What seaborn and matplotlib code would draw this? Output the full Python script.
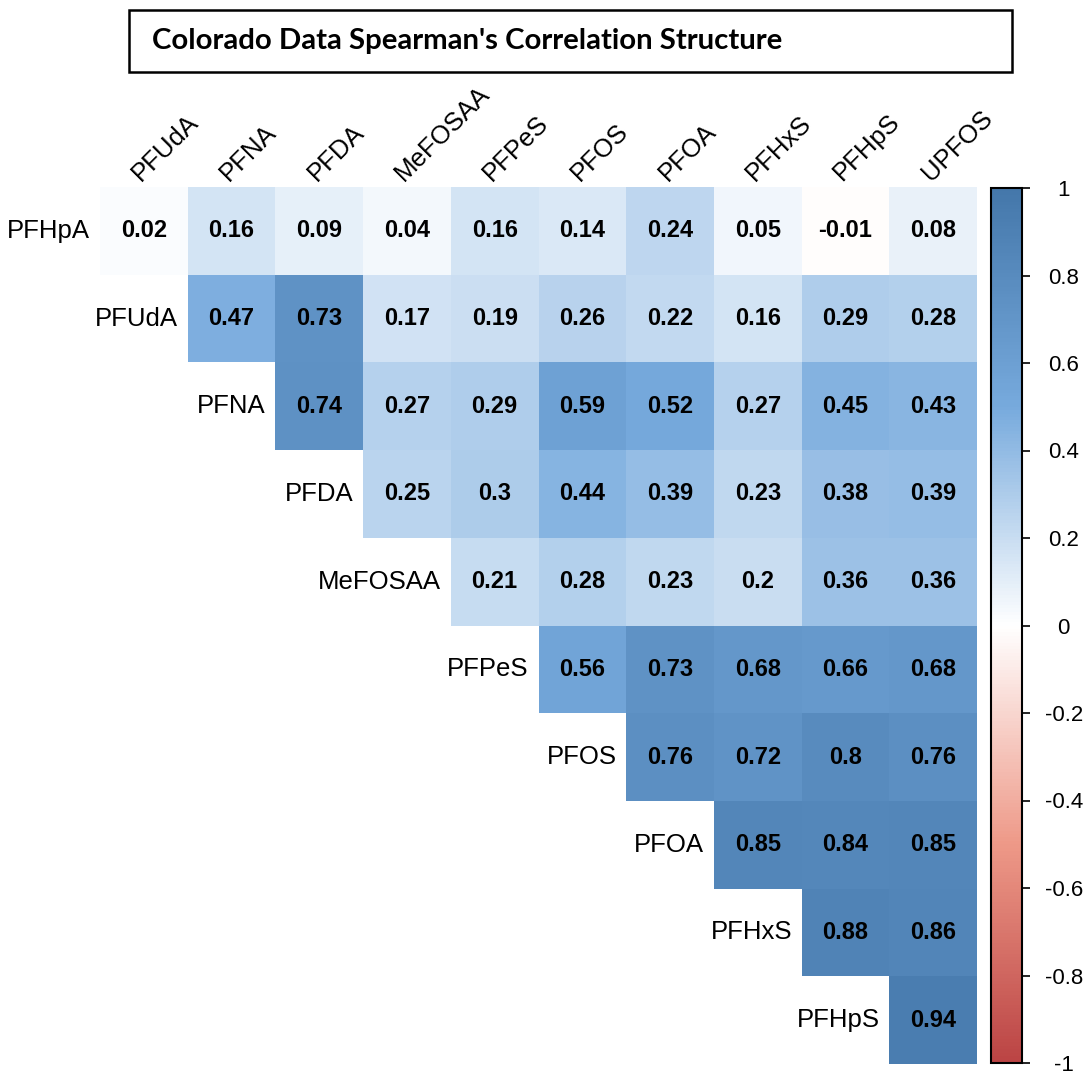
import matplotlib
matplotlib.use("Agg")
import matplotlib.pyplot as plt
import seaborn as sns
import numpy as np
import pandas as pd
from matplotlib.colors import LinearSegmentedColormap
from matplotlib.patches import Rectangle

row_labels = ['PFHpA', 'PFUdA', 'PFNA', 'PFDA', 'MeFOSAA', 'PFPeS', 'PFOS', 'PFOA', 'PFHxS', 'PFHpS']
col_labels = ['PFUdA', 'PFNA', 'PFDA', 'MeFOSAA', 'PFPeS', 'PFOS', 'PFOA', 'PFHxS', 'PFHpS', 'UPFOS']

# upper triangle rows (each row starts on the diagonal)
r_pfhpa = [0.02, 0.16, 0.09, 0.04, 0.16, 0.14, 0.24, 0.05, -0.01, 0.08]
r_pfuda = [0.47, 0.73, 0.17, 0.19, 0.26, 0.22, 0.16, 0.29, 0.28]
r_pfna = [0.74, 0.27, 0.29, 0.59, 0.52, 0.27, 0.45, 0.43]
r_pfda = [0.25, 0.3, 0.44, 0.39, 0.23, 0.38, 0.39]
r_mefosaa = [0.21, 0.28, 0.23, 0.2, 0.36, 0.36]
r_pfpes = [0.56, 0.73, 0.68, 0.66, 0.68]
r_pfos = [0.76, 0.72, 0.8, 0.76]
r_pfoa = [0.85, 0.84, 0.85]
r_pfhxs = [0.88, 0.86]
r_pfhps = [0.94]

cbar_ticks = [-1, -0.8, -0.6, -0.4, -0.2, 0, 0.2, 0.4, 0.6, 0.8, 1]

rows = [r_pfhpa, r_pfuda, r_pfna, r_pfda, r_mefosaa, r_pfpes, r_pfos, r_pfoa, r_pfhxs, r_pfhps]
n = len(row_labels)
mat = np.full((n, n), np.nan)
for i, vals in enumerate(rows):
    mat[i, i:] = vals
df = pd.DataFrame(mat, index=row_labels, columns=col_labels)
annot = df.apply(lambda c: c.map(lambda v: '' if np.isnan(v) else f"{v:g}"))

# corrplot style palette
cmap = LinearSegmentedColormap.from_list('corr', ["#BB4444", "#EE9988", "#FFFFFF", "#77AADD", "#4477AA"])

W, H = 1083, 1074
plt.rcParams['font.family'] = ['Liberation Sans', 'DejaVu Sans']
fig = plt.figure(figsize=(W / 100, H / 100), dpi=100)

ax = fig.add_axes([100 / W, 10 / H, 877 / W, 877 / H])
cax = fig.add_axes([991 / W, 11 / H, 31 / W, 875 / H])

sns.heatmap(df, mask=df.isna(), cmap=cmap, vmin=-1, vmax=1, annot=annot, fmt='',
            annot_kws={'fontsize': 17, 'fontweight': 'bold', 'color': 'black'},
            cbar_ax=cax, ax=ax, square=False)
ax.set_xticks([])
ax.set_yticks([])
ax.set_xlabel('')
ax.set_ylabel('')

# row labels next to the diagonal
for i, lab in enumerate(row_labels):
    ax.text(i - 0.11, i + 0.5, lab, ha='right', va='center', fontsize=18.5, color='black')
# column labels rotated on top
for j, lab in enumerate(col_labels):
    ax.text(j + 0.47, -0.06, lab, ha='left', va='baseline', rotation=45,
            rotation_mode='anchor', fontsize=18.5, color='black', clip_on=False)

# colorbar look
cbar = ax.collections[0].colorbar
cbar.set_ticks(cbar_ticks)
cbar.set_ticklabels([f"{t:g}" for t in cbar_ticks])
cax.tick_params(length=6, width=1.2, pad=24, labelsize=16, colors='black')
for t in cax.get_yticklabels():
    t.set_ha('center')
cbar.outline.set_visible(True)
cbar.outline.set_edgecolor('black')
cbar.outline.set_linewidth(1.5)

# title in a box
fig.patches.append(Rectangle((129 / W, 1 - 72 / H), (1012 - 129) / W, 62 / H,
                             transform=fig.transFigure, fill=False, edgecolor='black', linewidth=1.8))
fig.text(152 / W, 1 - 41 / H, "Colorado Data Spearman's Correlation Structure",
         ha='left', va='center', fontsize=21.2, fontweight='bold', family='Lato')

fig.savefig('out.png', dpi=100)
